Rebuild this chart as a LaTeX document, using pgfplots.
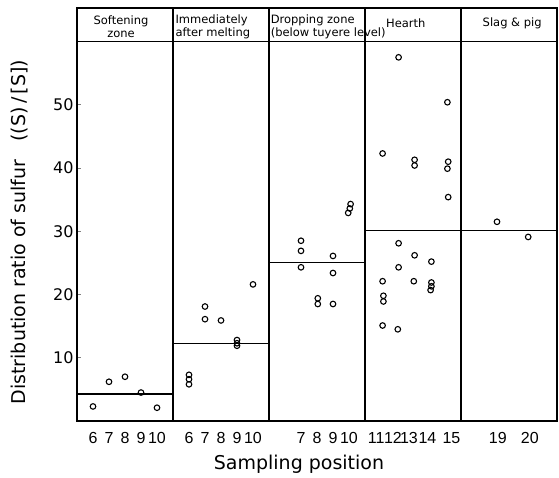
\documentclass[border=0pt]{standalone}
\usepackage{fontspec}
\setmainfont{Liberation Sans}
\newfontfamily\widefont{DejaVu Sans}
\usepackage{pgfplots}
\pgfplotsset{compat=1.18}
\begin{document}
\begin{tikzpicture}
\path[use as bounding box] (-77pt,-56pt) rectangle (482pt,421pt);
\begin{axis}[
    scale only axis, width=480pt, height=413pt,
    xmin=0, xmax=30, ymin=0, ymax=65.3,
    axis line style={line width=1.3pt},
    ytick={10,20,30,40,50},
    ytick pos=left, tick align=inside, major tick length=4pt,
    y tick style={line width=0.8pt},
    xtick={1,2,3,4,5,7,8,9,10,11,14,15,16,17,18.7,19.75,20.75,21.9,23.4,26.3,28.3},
    xticklabels={6,7,8,9,10,6,7,8,9,10,7,8,9,10,11,12,13,14,15,19,20},
    x tick style={draw=none},
    x tick label style={font=\fontsize{16}{16}\selectfont, yshift=-8pt},
    y tick label style={font=\widefont\fontsize{16}{16}\selectfont},
    /pgf/number format/assume math mode=true,
    xlabel={Sampling position},
    ylabel={Distribution ratio of sulfur\ \ \ ((S)\,/\,[S])},
    label style={font=\widefont\fontsize{19}{19}\selectfont},
    xlabel style={at={(axis description cs:0.4625,0)}, anchor=center, yshift=-43pt},
    ylabel style={at={(axis description cs:-0.119,0.457)}, anchor=center},
    clip=false,
]
% mean lines per zone
\addplot[black, line width=1.4pt] coordinates {(0,4.3) (6,4.3)};
\addplot[black, line width=1.4pt] coordinates {(6,12.3) (12,12.3)};
\addplot[black, line width=1.4pt] coordinates {(12,25.1) (18,25.1)};
\addplot[black, line width=1.4pt] coordinates {(18,30.1) (24,30.1)};
\addplot[black, line width=1.4pt] coordinates {(24,30.1) (30,30.1)};

% measured points
\addplot[only marks, mark=o, mark size=2.8pt, black, line width=1.1pt] table {
x y
1 2.3
2 6.2
3 7.0
4 4.5
5 2.1
7 5.8
7 6.6
7 7.3
8 18.1
8 16.1
9 15.9
10 12.8
10 12.3
10 11.9
11 21.6
14 28.5
14 26.9
14 24.3
15.05 19.4
15.05 18.5
16 26.1
16 23.4
16 18.5
16.95 32.9
17.05 33.6
17.1 34.3
19.1 42.3
19.1 22.1
19.15 19.8
19.15 18.9
19.1 15.1
20.1 57.5
20.1 28.1
20.1 24.3
20.05 14.5
21.1 41.3
21.1 40.4
21.1 26.2
21.05 22.1
22.15 25.2
22.15 21.9
22.15 21.3
22.1 20.7
23.15 50.4
23.2 41.0
23.15 39.9
23.2 35.4
26.25 31.5
28.2 29.1
};

% zone frame
\draw[line width=1.3pt] (axis cs:0,60) -- (axis cs:30,60);
\draw[line width=1.3pt] (axis cs:6,0) -- (axis cs:6,65.3);
\draw[line width=1.3pt] (axis cs:12,0) -- (axis cs:12,65.3);
\draw[line width=1.3pt] (axis cs:18,0) -- (axis cs:18,65.3);
\draw[line width=1.3pt] (axis cs:24,0) -- (axis cs:24,65.3);

\node[align=center, font=\widefont\fontsize{11.5}{13}\selectfont] at (axis cs:2.75,62.4) {Softening\\zone};
\node[align=left, anchor=west, inner sep=0pt, font=\widefont\fontsize{11.5}{13}\selectfont] at (axis cs:6.15,62.4) {Immediately\\after melting};
\node[align=left, anchor=west, inner sep=0pt, font=\widefont\fontsize{11.5}{13}\selectfont] at (axis cs:12.1,62.4) {Dropping zone\\(below tuyere level)};
\node[font=\widefont\fontsize{11.5}{13}\selectfont] at (axis cs:20.55,62.9) {Hearth};
\node[font=\widefont\fontsize{11.5}{13}\selectfont] at (axis cs:27.2,62.9) {Slag \& pig};
\end{axis}
\end{tikzpicture}
\end{document}
